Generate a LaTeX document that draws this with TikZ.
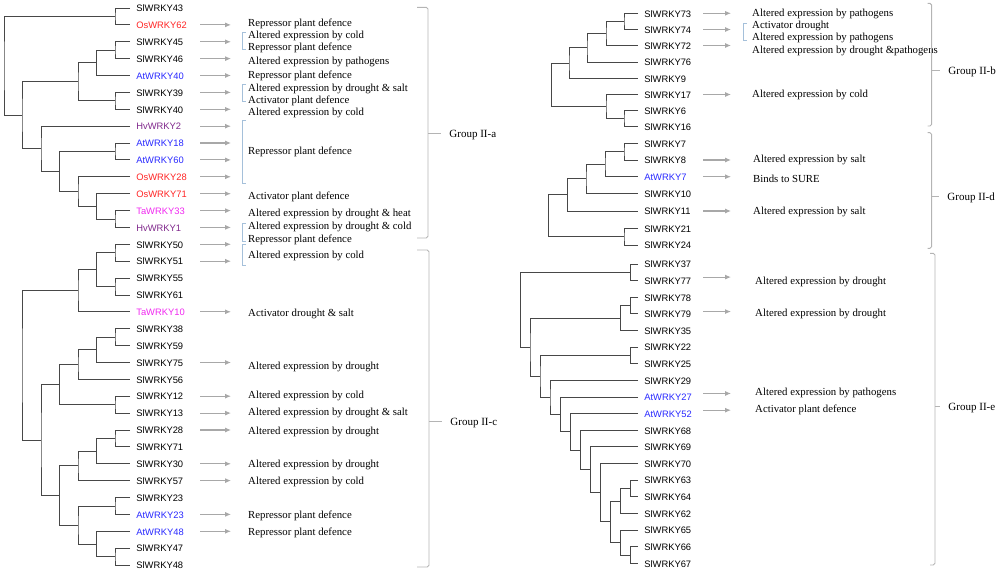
\documentclass[tikz,border=0pt]{standalone}
\usepackage{fontspec}
\setmainfont{Liberation Serif}
\setsansfont{Liberation Sans}
\usepackage{tikz}
\usetikzlibrary{arrows.meta, positioning}

\definecolor{osred}{RGB}{255,36,36}
\definecolor{atblue}{RGB}{40,40,255}
\definecolor{hvpurple}{RGB}{128,40,140}
\definecolor{tamagenta}{RGB}{240,40,240}
\definecolor{arrowgray}{RGB}{168,168,168}
\definecolor{groupgray}{RGB}{180,180,180}
\definecolor{pairblue}{RGB}{165,192,218}

\tikzset{
  branch/.style={draw=black!72, line width=0.75pt},
  leaf/.style={anchor=west, inner xsep=5.2pt, inner ysep=0pt, font=\sffamily\fontsize{8}{9}\selectfont, text height=1.4ex, text depth=0pt},
  effect/.style={anchor=west, inner sep=0pt, font=\fontsize{9.2}{10}\selectfont, text height=1.5ex, text depth=0pt},
  effarrow/.style={->, >={Latex[length=5pt,width=4.2pt]}, draw=arrowgray, fill=arrowgray, line width=0.9pt},
  pair/.style={draw=pairblue, line width=0.6pt},
  group/.style={draw=groupgray, line width=0.8pt, rounded corners=1.5pt},
  grouplabel/.style={anchor=west, inner xsep=7pt, inner ysep=0pt, font=\fontsize{9.4}{11}\selectfont, text height=1.5ex, text depth=0pt}
}

\begin{document}
\begin{tikzpicture}[x=0.03cm, y=-0.03cm]
\useasboundingbox (0,0) rectangle (1000,572);

\node[leaf] (SlWRKY43) at (130,8) {SlWRKY43};
\node[leaf, text=osred] (OsWRKY62) at (130,24.9) {OsWRKY62};
\node[leaf] (SlWRKY45) at (130,41.8) {SlWRKY45};
\node[leaf] (SlWRKY46) at (130,58.6) {SlWRKY46};
\node[leaf, text=atblue] (AtWRKY40) at (130,75.5) {AtWRKY40};
\node[leaf] (SlWRKY39) at (130,92.4) {SlWRKY39};
\node[leaf] (SlWRKY40) at (130,109.3) {SlWRKY40};
\node[leaf, text=hvpurple] (HvWRKY2) at (130,126.2) {HvWRKY2};
\node[leaf, text=atblue] (AtWRKY18) at (130,143.0) {AtWRKY18};
\node[leaf, text=atblue] (AtWRKY60) at (130,159.9) {AtWRKY60};
\node[leaf, text=osred] (OsWRKY28) at (130,176.8) {OsWRKY28};
\node[leaf, text=osred] (OsWRKY71) at (130,193.7) {OsWRKY71};
\node[leaf, text=tamagenta] (TaWRKY33) at (130,210.6) {TaWRKY33};
\node[leaf, text=hvpurple] (HvWRKY1) at (130,227.4) {HvWRKY1};
\node[leaf] (SlWRKY50) at (130,244.3) {SlWRKY50};
\node[leaf] (SlWRKY51) at (130,261.2) {SlWRKY51};
\node[leaf] (SlWRKY55) at (130,278.1) {SlWRKY55};
\node[leaf] (SlWRKY61) at (130,295.0) {SlWRKY61};
\node[leaf, text=tamagenta] (TaWRKY10) at (130,311.8) {TaWRKY10};
\node[leaf] (SlWRKY38) at (130,328.7) {SlWRKY38};
\node[leaf] (SlWRKY59) at (130,345.6) {SlWRKY59};
\node[leaf] (SlWRKY75) at (130,362.5) {SlWRKY75};
\node[leaf] (SlWRKY56) at (130,379.4) {SlWRKY56};
\node[leaf] (SlWRKY12) at (130,396.2) {SlWRKY12};
\node[leaf] (SlWRKY13) at (130,413.1) {SlWRKY13};
\node[leaf] (SlWRKY28) at (130,430.0) {SlWRKY28};
\node[leaf] (SlWRKY71) at (130,446.9) {SlWRKY71};
\node[leaf] (SlWRKY30) at (130,463.8) {SlWRKY30};
\node[leaf] (SlWRKY57) at (130,480.6) {SlWRKY57};
\node[leaf] (SlWRKY23) at (130,497.5) {SlWRKY23};
\node[leaf, text=atblue] (AtWRKY23) at (130,514.4) {AtWRKY23};
\node[leaf, text=atblue] (AtWRKY48) at (130,531.3) {AtWRKY48};
\node[leaf] (SlWRKY47) at (130,548.2) {SlWRKY47};
\node[leaf] (SlWRKY48) at (130,565.0) {SlWRKY48};

\node[leaf] (SlWRKY73) at (638,13.3) {SlWRKY73};
\node[leaf] (SlWRKY74) at (638,29.5) {SlWRKY74};
\node[leaf] (SlWRKY72) at (638,45.5) {SlWRKY72};
\node[leaf] (SlWRKY76) at (638,62) {SlWRKY76};
\node[leaf] (SlWRKY9) at (638,78.3) {SlWRKY9};
\node[leaf] (SlWRKY17) at (638,94.5) {SlWRKY17};
\node[leaf] (SlWRKY6) at (638,110.5) {SlWRKY6};
\node[leaf] (SlWRKY16) at (638,126.8) {SlWRKY16};
\node[leaf] (SlWRKY7) at (638,143.3) {SlWRKY7};
\node[leaf] (SlWRKY8) at (638,160) {SlWRKY8};
\node[leaf, text=atblue] (AtWRKY7) at (638,176.7) {AtWRKY7};
\node[leaf] (SlWRKY10) at (638,193.3) {SlWRKY10};
\node[leaf] (SlWRKY11) at (638,211) {SlWRKY11};
\node[leaf] (SlWRKY21) at (638,228.3) {SlWRKY21};
\node[leaf] (SlWRKY24) at (638,245) {SlWRKY24};
\node[leaf] (SlWRKY37) at (638,264) {SlWRKY37};
\node[leaf] (SlWRKY77) at (638,280.6) {SlWRKY77};
\node[leaf] (SlWRKY78) at (638,297.3) {SlWRKY78};
\node[leaf] (SlWRKY79) at (638,313.9) {SlWRKY79};
\node[leaf] (SlWRKY35) at (638,330.5) {SlWRKY35};
\node[leaf] (SlWRKY22) at (638,347.2) {SlWRKY22};
\node[leaf] (SlWRKY25) at (638,363.8) {SlWRKY25};
\node[leaf] (SlWRKY29) at (638,380.4) {SlWRKY29};
\node[leaf, text=atblue] (AtWRKY27) at (638,397.0) {AtWRKY27};
\node[leaf, text=atblue] (AtWRKY52) at (638,413.7) {AtWRKY52};
\node[leaf] (SlWRKY68) at (638,430.3) {SlWRKY68};
\node[leaf] (SlWRKY69) at (638,446.9) {SlWRKY69};
\node[leaf] (SlWRKY70) at (638,463.6) {SlWRKY70};
\node[leaf] (SlWRKY63) at (638,480.2) {SlWRKY63};
\node[leaf] (SlWRKY64) at (638,496.8) {SlWRKY64};
\node[leaf] (SlWRKY62) at (638,513.5) {SlWRKY62};
\node[leaf] (SlWRKY65) at (638,530.1) {SlWRKY65};
\node[leaf] (SlWRKY66) at (638,546.7) {SlWRKY66};
\node[leaf] (SlWRKY67) at (638,563.3) {SlWRKY67};

\coordinate (a1) at (115,16.45);
\coordinate (a2) at (115,50.2);
\coordinate (a3) at (96.5,62.85);
\coordinate (a4) at (115,100.85);
\coordinate (a5) at (78,81.85);
\coordinate (a6) at (115,151.45);
\coordinate (a7) at (115,219.0);
\coordinate (a8) at (96.5,206.35);
\coordinate (a9) at (78,191.6);
\coordinate (a10) at (59.5,171.5);
\coordinate (a11) at (41,148.85);
\coordinate (a12) at (22,115.35);
\coordinate (a13) at (4,65.9);
\draw[branch] (SlWRKY43.west) -| (a1) |- (OsWRKY62.west);
\draw[branch] (SlWRKY45.west) -| (a2) |- (SlWRKY46.west);
\draw[branch] (a2) -| (a3) |- (AtWRKY40.west);
\draw[branch] (SlWRKY39.west) -| (a4) |- (SlWRKY40.west);
\draw[branch] (a3) -| (a5) |- (a4);
\draw[branch] (AtWRKY18.west) -| (a6) |- (AtWRKY60.west);
\draw[branch] (TaWRKY33.west) -| (a7) |- (HvWRKY1.west);
\draw[branch] (OsWRKY71.west) -| (a8) |- (a7);
\draw[branch] (OsWRKY28.west) -| (a9) |- (a8);
\draw[branch] (a6) -| (a10) |- (a9);
\draw[branch] (HvWRKY2.west) -| (a11) |- (a10);
\draw[branch] (a5) -| (a12) |- (a11);
\draw[branch] (a1) -| (a13) |- (a12);

\coordinate (c1) at (115,252.75);
\coordinate (c2) at (115,286.55);
\coordinate (c3) at (96.5,269.65);
\coordinate (c4) at (78,290.7);
\coordinate (c5) at (115,337.15);
\coordinate (c6) at (96.5,349.8);
\coordinate (c7) at (78,364.6);
\coordinate (c8) at (115,404.65);
\coordinate (c9) at (59.5,384.6);
\coordinate (c10) at (115,438.45);
\coordinate (c11) at (96.5,451.1);
\coordinate (c12) at (78,465.85);
\coordinate (c13) at (115,505.95);
\coordinate (c14) at (115,556.6);
\coordinate (c15) at (96.5,543.95);
\coordinate (c16) at (78,524.95);
\coordinate (c17) at (59.5,495.4);
\coordinate (c18) at (41,440.0);
\coordinate (c19) at (22,365.35);
\draw[branch] (SlWRKY50.west) -| (c1) |- (SlWRKY51.west);
\draw[branch] (SlWRKY55.west) -| (c2) |- (SlWRKY61.west);
\draw[branch] (c1) -| (c3) |- (c2);
\draw[branch] (c3) -| (c4) |- (TaWRKY10.west);
\draw[branch] (SlWRKY38.west) -| (c5) |- (SlWRKY59.west);
\draw[branch] (c5) -| (c6) |- (SlWRKY75.west);
\draw[branch] (c6) -| (c7) |- (SlWRKY56.west);
\draw[branch] (SlWRKY12.west) -| (c8) |- (SlWRKY13.west);
\draw[branch] (c7) -| (c9) |- (c8);
\draw[branch] (SlWRKY28.west) -| (c10) |- (SlWRKY71.west);
\draw[branch] (c10) -| (c11) |- (SlWRKY30.west);
\draw[branch] (c11) -| (c12) |- (SlWRKY57.west);
\draw[branch] (SlWRKY23.west) -| (c13) |- (AtWRKY23.west);
\draw[branch] (SlWRKY47.west) -| (c14) |- (SlWRKY48.west);
\draw[branch] (AtWRKY48.west) -| (c15) |- (c14);
\draw[branch] (c13) -| (c16) |- (c15);
\draw[branch] (c12) -| (c17) |- (c16);
\draw[branch] (c9) -| (c18) |- (c17);
\draw[branch] (c4) -| (c19) |- (c18);

\coordinate (b1) at (624,21.4);
\coordinate (b2) at (606,33.45);
\coordinate (b3) at (587,47.7);
\coordinate (b4) at (569,63.0);
\coordinate (b5) at (624,118.65);
\coordinate (b6) at (606,106.6);
\coordinate (b7) at (551.7,84.8);
\draw[branch] (SlWRKY73.west) -| (b1) |- (SlWRKY74.west);
\draw[branch] (b1) -| (b2) |- (SlWRKY72.west);
\draw[branch] (b2) -| (b3) |- (SlWRKY76.west);
\draw[branch] (b3) -| (b4) |- (SlWRKY9.west);
\draw[branch] (SlWRKY6.west) -| (b5) |- (SlWRKY16.west);
\draw[branch] (SlWRKY17.west) -| (b6) |- (b5);
\draw[branch] (b4) -| (b7) |- (b6);

\coordinate (d1) at (624,151.65);
\coordinate (d2) at (605,164.2);
\coordinate (d3) at (586,178.75);
\coordinate (d4) at (567.7,194.9);
\coordinate (d5) at (624,236.65);
\coordinate (d6) at (548.3,215.8);
\draw[branch] (SlWRKY7.west) -| (d1) |- (SlWRKY8.west);
\draw[branch] (d1) -| (d2) |- (AtWRKY7.west);
\draw[branch] (d2) -| (d3) |- (SlWRKY10.west);
\draw[branch] (d3) -| (d4) |- (SlWRKY11.west);
\draw[branch] (SlWRKY21.west) -| (d5) |- (SlWRKY24.west);
\draw[branch] (d4) -| (d6) |- (d5);

\coordinate (e1) at (630.7,272.3);
\coordinate (e2) at (630.7,305.6);
\coordinate (e3) at (620.7,318.05);
\coordinate (e4) at (630.7,355.5);
\coordinate (e5) at (630.7,488.5);
\coordinate (e6) at (620.7,501);
\coordinate (e7) at (630.7,555);
\coordinate (e8) at (620.7,542.55);
\coordinate (e9) at (610.7,521.8);
\coordinate (e10) at (600.7,492.7);
\coordinate (e11) at (590.7,469.8);
\coordinate (e12) at (580.7,450.05);
\coordinate (e13) at (570.7,431.9);
\coordinate (e14) at (560.7,414.45);
\coordinate (e15) at (550,397.4);
\coordinate (e16) at (540,376.45);
\coordinate (e17) at (530,347.25);
\coordinate (e18) at (520.7,309.8);
\draw[branch] (SlWRKY37.west) -| (e1) |- (SlWRKY77.west);
\draw[branch] (SlWRKY78.west) -| (e2) |- (SlWRKY79.west);
\draw[branch] (e2) -| (e3) |- (SlWRKY35.west);
\draw[branch] (SlWRKY22.west) -| (e4) |- (SlWRKY25.west);
\draw[branch] (SlWRKY63.west) -| (e5) |- (SlWRKY64.west);
\draw[branch] (e5) -| (e6) |- (SlWRKY62.west);
\draw[branch] (SlWRKY66.west) -| (e7) |- (SlWRKY67.west);
\draw[branch] (SlWRKY65.west) -| (e8) |- (e7);
\draw[branch] (e6) -| (e9) |- (e8);
\draw[branch] (SlWRKY70.west) -| (e10) |- (e9);
\draw[branch] (SlWRKY69.west) -| (e11) |- (e10);
\draw[branch] (SlWRKY68.west) -| (e12) |- (e11);
\draw[branch] (AtWRKY52.west) -| (e13) |- (e12);
\draw[branch] (AtWRKY27.west) -| (e14) |- (e13);
\draw[branch] (SlWRKY29.west) -| (e15) |- (e14);
\draw[branch] (e4) -| (e16) |- (e15);
\draw[branch] (e3) -| (e17) |- (e16);
\draw[branch] (e1) -| (e18) |- (e17);

\coordinate (aL1) at (200,0);
\coordinate (aL2) at (231,0);
\coordinate (aR1) at (703,0);
\coordinate (aR2) at (731,0);
\draw[effarrow] (OsWRKY62 -| aL1) -- (OsWRKY62 -| aL2);
\draw[effarrow] (SlWRKY45 -| aL1) -- (SlWRKY45 -| aL2);
\draw[effarrow] (SlWRKY46 -| aL1) -- (SlWRKY46 -| aL2);
\draw[effarrow] (AtWRKY40 -| aL1) -- (AtWRKY40 -| aL2);
\draw[effarrow] (SlWRKY39 -| aL1) -- (SlWRKY39 -| aL2);
\draw[effarrow] (SlWRKY40 -| aL1) -- (SlWRKY40 -| aL2);
\draw[effarrow] (HvWRKY2 -| aL1) -- (HvWRKY2 -| aL2);
\draw[effarrow] (AtWRKY18 -| aL1) -- (AtWRKY18 -| aL2);
\draw[effarrow] (AtWRKY60 -| aL1) -- (AtWRKY60 -| aL2);
\draw[effarrow] (OsWRKY28 -| aL1) -- (OsWRKY28 -| aL2);
\draw[effarrow] (OsWRKY71 -| aL1) -- (OsWRKY71 -| aL2);
\draw[effarrow] (TaWRKY33 -| aL1) -- (TaWRKY33 -| aL2);
\draw[effarrow] (HvWRKY1 -| aL1) -- (HvWRKY1 -| aL2);
\draw[effarrow] (SlWRKY50 -| aL1) -- (SlWRKY50 -| aL2);
\draw[effarrow] (SlWRKY51 -| aL1) -- (SlWRKY51 -| aL2);
\draw[effarrow] (TaWRKY10 -| aL1) -- (TaWRKY10 -| aL2);
\draw[effarrow] (SlWRKY75 -| aL1) -- (SlWRKY75 -| aL2);
\draw[effarrow] (SlWRKY12 -| aL1) -- (SlWRKY12 -| aL2);
\draw[effarrow] (SlWRKY13 -| aL1) -- (SlWRKY13 -| aL2);
\draw[effarrow] (SlWRKY28 -| aL1) -- (SlWRKY28 -| aL2);
\draw[effarrow] (SlWRKY30 -| aL1) -- (SlWRKY30 -| aL2);
\draw[effarrow] (SlWRKY57 -| aL1) -- (SlWRKY57 -| aL2);
\draw[effarrow] (AtWRKY23 -| aL1) -- (AtWRKY23 -| aL2);
\draw[effarrow] (AtWRKY48 -| aL1) -- (AtWRKY48 -| aL2);
\draw[effarrow] (SlWRKY73 -| aR1) -- (SlWRKY73 -| aR2);
\draw[effarrow] (SlWRKY74 -| aR1) -- (SlWRKY74 -| aR2);
\draw[effarrow] (SlWRKY72 -| aR1) -- (SlWRKY72 -| aR2);
\draw[effarrow] (SlWRKY17 -| aR1) -- (SlWRKY17 -| aR2);
\draw[effarrow] (SlWRKY8 -| aR1) -- (SlWRKY8 -| aR2);
\draw[effarrow] (AtWRKY7 -| aR1) -- (AtWRKY7 -| aR2);
\draw[effarrow] (SlWRKY11 -| aR1) -- (SlWRKY11 -| aR2);
\draw[effarrow] ([yshift=3pt]SlWRKY77 -| aR1) -- ([yshift=3pt]SlWRKY77 -| aR2);
\draw[effarrow] ([yshift=2pt]SlWRKY79 -| aR1) -- ([yshift=2pt]SlWRKY79 -| aR2);
\draw[effarrow] ([yshift=3pt]AtWRKY27 -| aR1) -- ([yshift=3pt]AtWRKY27 -| aR2);
\draw[effarrow] ([yshift=3pt]AtWRKY52 -| aR1) -- ([yshift=3pt]AtWRKY52 -| aR2);

\node[effect] (ef1) at (248,22.3) {Repressor plant defence};
\node[effect] (ef2) at (248,34.3) {Altered expression by cold};
\node[effect] (ef3) at (248,46.7) {Repressor plant defence};
\node[effect] (ef4) at (248,60) {Altered expression by pathogens};
\node[effect] (ef5) at (248,74) {Repressor plant defence};
\node[effect] (ef6) at (248,87.3) {Altered expression by drought \& salt};
\node[effect] (ef7) at (248,99.3) {Activator plant defence};
\node[effect] (ef8) at (248,111.7) {Altered expression by cold};
\node[effect] (ef9) at (248,150) {Repressor plant defence};
\node[effect] (ef10) at (248,195.7) {Activator plant defence};
\node[effect] (ef11) at (248,212.7) {Altered expression by drought \& heat};
\node[effect] (ef12) at (248,225) {Altered expression by drought \& cold};
\node[effect] (ef13) at (248,238.3) {Repressor plant defence};
\node[effect] (ef14) at (248,254.3) {Altered expression by cold};
\node[effect] (ef15) at (248,312) {Activator drought \& salt};
\node[effect] (ef16) at (248,365) {Altered expression by drought};
\node[effect] (ef17) at (248,394) {Altered expression by cold};
\node[effect] (ef18) at (248,411) {Altered expression by drought \& salt};
\node[effect] (ef19) at (248,430.7) {Altered expression by drought};
\node[effect] (ef20) at (248,463) {Altered expression by drought};
\node[effect] (ef21) at (248,480) {Altered expression by cold};
\node[effect] (ef22) at (248,514) {Repressor plant defence};
\node[effect] (ef23) at (248,531) {Repressor plant defence};

\node[effect] (ef24) at (752,12.3) {Altered expression by pathogens};
\node[effect] (ef25) at (752,24) {Activator drought};
\node[effect] (ef26) at (752,36) {Altered expression by pathogens};
\node[effect] (ef27) at (752,49.3) {Altered expression by drought \&pathogens};
\node[effect] (ef28) at (752,93.3) {Altered expression by cold};
\node[effect] (ef29) at (753,158.3) {Altered expression by salt};
\node[effect] (ef30) at (753,178.3) {Binds to SURE};
\node[effect] (ef31) at (753,210.7) {Altered expression by salt};
\node[effect] (ef32) at (755,280) {Altered expression by drought};
\node[effect] (ef33) at (755,312.3) {Altered expression by drought};
\node[effect] (ef34) at (755,391.7) {Altered expression by pathogens};
\node[effect] (ef35) at (755,408.3) {Activator plant defence};

\draw[pair] (246,32.3) -- (242,32.3) -- (242,49.3) -- (246,49.3);
\draw[pair] (246,84.3) -- (242,84.3) -- (242,101.7) -- (246,101.7);
\draw[pair] (246,120) -- (242,120) -- (242,183.3) -- (246,183.3);
\draw[pair] (246,223.3) -- (242,223.3) -- (242,241.7) -- (246,241.7);
\draw[pair] (246,244) -- (242,244) -- (242,265) -- (246,265);
\draw[pair] (747,23.3) -- (743.3,23.3) -- (743.3,40) -- (747,40);

\draw[group] (417,7.3) -- (428,7.3) -- (428,238) -- (417,238);
\draw[group] (417,250) -- (429,250) -- (429,567) -- (417,567);
\draw[group] (927.5,3.3) -- (931.7,3.3) -- (931.7,126) -- (927.5,126);
\draw[group] (927.5,132.7) -- (931.7,132.7) -- (931.7,248.3) -- (927.5,248.3);
\draw[group] (930,253.3) -- (935,253.3) -- (935,565) -- (930,565);
\coordinate (gIIa) at (428,133);
\coordinate (gIIc) at (429,421.7);
\coordinate (gIIb) at (931.7,70.7);
\coordinate (gIId) at (931.7,196);
\coordinate (gIIe) at (935,406.7);
\node[grouplabel] (GroupIIa) at (441,133) {Group II-a};
\node[grouplabel] (GroupIIc) at (442,421.7) {Group II-c};
\node[grouplabel] (GroupIIb) at (940,70.7) {Group II-b};
\node[grouplabel] (GroupIId) at (939,196) {Group II-d};
\node[grouplabel] (GroupIIe) at (940,406.7) {Group II-e};
\draw[group] (gIIa) -- (GroupIIa.west);
\draw[group] (gIIc) -- (GroupIIc.west);
\draw[group] (gIIb) -- (GroupIIb.west);
\draw[group] (gIId) -- (GroupIId.west);
\draw[group] (gIIe) -- (GroupIIe.west);
\end{tikzpicture}
\end{document}
